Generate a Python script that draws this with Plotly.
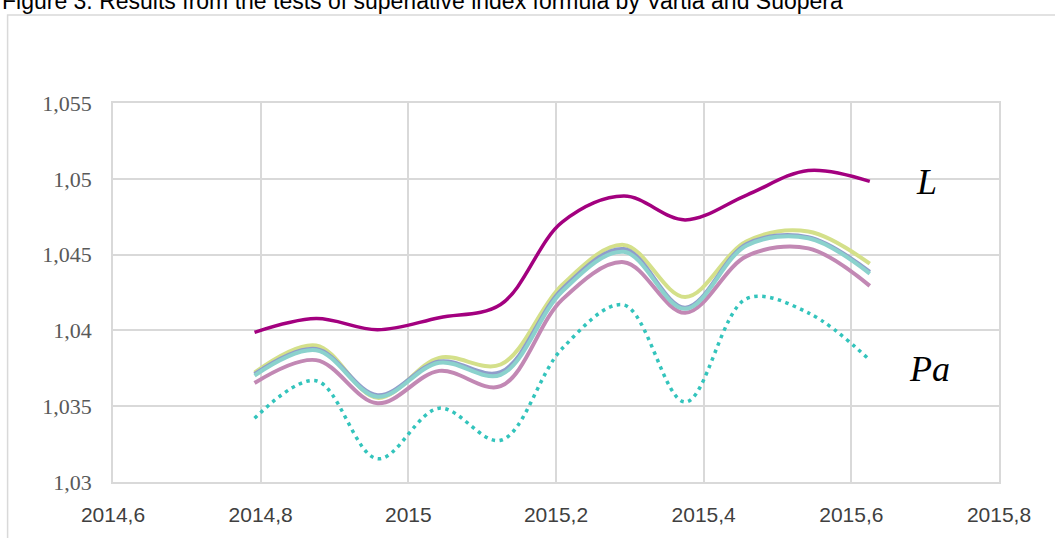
import plotly.graph_objects as go

# ---- data ----
x_vals = [2014.7917, 2014.875, 2014.9583, 2015.0417, 2015.125, 2015.2083,
          2015.2917, 2015.375, 2015.4583, 2015.5417, 2015.625]

series_L = [1.03987, 1.04078, 1.04004, 1.04084, 1.04171, 1.04714,
            1.04886, 1.04729, 1.04893, 1.05055, 1.04983]
series_yellow = [1.03722, 1.03901, 1.03555, 1.03819, 1.03775, 1.04300,
                 1.04564, 1.04220, 1.04588, 1.04652, 1.04440]
series_blue = [1.03712, 1.03878, 1.03572, 1.03795, 1.03725, 1.04272,
               1.04537, 1.04150, 1.04570, 1.04615, 1.04386]
series_teal = [1.03702, 1.03869, 1.03562, 1.03787, 1.03707, 1.04257,
               1.04519, 1.04142, 1.04560, 1.04608, 1.04375]
series_pink = [1.03653, 1.03804, 1.03519, 1.03733, 1.03632, 1.04203,
               1.04450, 1.04116, 1.04490, 1.04541, 1.04294]
series_Pa = [1.03420, 1.03668, 1.03153, 1.03487, 1.03275, 1.03880,
             1.04168, 1.03528, 1.04210, 1.04116, 1.03804]

x_tickvals = [2014.6, 2014.8, 2015.0, 2015.2, 2015.4, 2015.6, 2015.8]
x_ticktext = ["2014,6", "2014,8", "2015", "2015,2", "2015,4", "2015,6", "2015,8"]
y_tickvals = [1.03, 1.035, 1.04, 1.045, 1.05, 1.055]
y_ticktext = ["1,03", "1,035", "1,04", "1,045", "1,05", "1,055"]

title_text = "Figure 3. Results from the tests of superlative index formula by Vartia and Suopera"

# ---- figure ----
fig = go.Figure()

def add_line(y, color, width, dash="solid"):
    fig.add_trace(go.Scatter(
        x=x_vals, y=y, mode="lines",
        line=dict(color=color, width=width, shape="spline", smoothing=1.0, dash=dash),
        showlegend=False, hoverinfo="skip"))

add_line(series_pink, "#C288B4", 4)
add_line(series_yellow, "#D4E08A", 4)
add_line(series_blue, "#8F9DCB", 4)
add_line(series_teal, "#8BD2CD", 4)
add_line(series_L, "#A3007F", 3.5)
add_line(series_Pa, "#33C4BC", 3.5, dash="3.5px,4.5px")

L_px, T_px, R_px, B_px = 113.4, 102.8, 999.3, 489.3
W = 1055
H = 538
pw = R_px - L_px
ph = B_px - T_px

def px2paper_x(px):
    return (px - L_px) / pw

def px2paper_y(py):
    return (B_px - py) / ph

grid = "#D9D9D9"
fig.update_layout(
    width=W, height=H,
    margin=dict(l=L_px, r=W - R_px, t=T_px, b=H - B_px, pad=0),
    paper_bgcolor="white", plot_bgcolor="white",
    xaxis=dict(range=[2014.6, 2015.8], tickvals=x_tickvals, ticktext=x_ticktext,
               showgrid=True, gridcolor=grid, gridwidth=1.5,
               showline=True, linecolor=grid, linewidth=1.5, mirror=True,
               zeroline=False, ticks="", ticklabelstandoff=13,
               tickfont=dict(family="Liberation Sans", size=21, color="#404040")),
    yaxis=dict(range=[1.03, 1.055], tickvals=y_tickvals, ticktext=y_ticktext,
               showgrid=True, gridcolor=grid, gridwidth=1.5,
               showline=True, linecolor=grid, linewidth=1.5, mirror=True,
               zeroline=False, ticks="", ticklabelstandoff=15,
               tickfont=dict(family="Liberation Serif", size=22, color="#595959")),
)

# outer chart border
fig.add_shape(type="rect", xref="paper", yref="paper",
              x0=px2paper_x(8), x1=px2paper_x(1200),
              y0=px2paper_y(700), y1=px2paper_y(13),
              line=dict(color=grid, width=1.5), fillcolor="rgba(0,0,0,0)", layer="below")

# title (clipped at top like reference)
fig.add_annotation(text=title_text, xref="paper", yref="paper",
                   x=px2paper_x(0), y=px2paper_y(-1), xanchor="left", yanchor="middle",
                   showarrow=False,
                   font=dict(family="Liberation Sans", size=23, color="#000000"))

# series labels
fig.add_annotation(text="<i>L</i>", xref="x", yref="y", x=2015.702, y=1.04979,
                   showarrow=False, xanchor="center", yanchor="middle",
                   font=dict(family="Liberation Serif", size=36, color="#000000"))
fig.add_annotation(text="<i>Pa</i>", xref="x", yref="y", x=2015.7065, y=1.03746,
                   showarrow=False, xanchor="center", yanchor="middle",
                   font=dict(family="Liberation Serif", size=36, color="#000000"))

fig.write_html("out.html",
               config={"displayModeBar": False},
               post_script="document.body.style.margin='0';document.body.style.padding='0';")
